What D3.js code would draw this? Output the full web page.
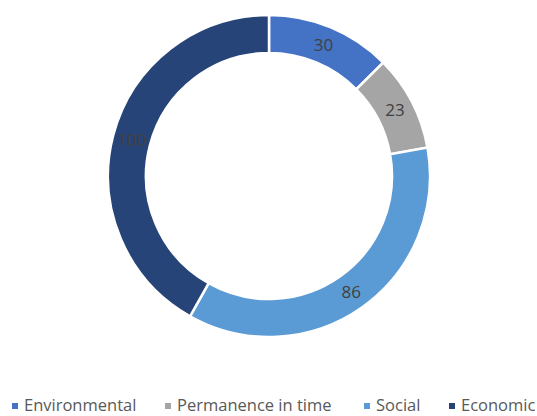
<!DOCTYPE html>
<html>
<head>
<meta charset="utf-8">
<script src="https://cdn.jsdelivr.net/npm/d3@7"></script>
<style>
  body { margin: 0; background: #fff; }
  svg text { font-family: "Open Sans", "Liberation Sans", sans-serif; }
</style>
</head>
<body>
<div id="chart"></div>
<script>
// data
var categories = ["Environmental", "Permanence in time", "Social", "Economic"];
var values = [30, 23, 86, 100];
var colors = ["#4472c4", "#a5a5a5", "#5b9bd5", "#264478"];
var legendX = [12, 165, 364, 449];

var width = 537, height = 416;
var cx = 269, cy = 176, outerR = 161, innerR = 123;

var svg = d3.select("#chart").append("svg")
    .attr("width", width)
    .attr("height", height);

var pie = d3.pie().sort(null).value(function(d) { return d; });
var arc = d3.arc().innerRadius(innerR).outerRadius(outerR);

var g = svg.append("g")
    .attr("transform", "translate(" + cx + "," + cy + ")");

var arcs = pie(values);

g.selectAll("path")
    .data(arcs)
  .enter().append("path")
    .attr("d", arc)
    .attr("fill", function(d, i) { return colors[i]; })
    .attr("stroke", "#fff")
    .attr("stroke-width", 2.5);

g.selectAll(".lbl")
    .data(arcs)
  .enter().append("text")
    .attr("class", "lbl")
    .attr("transform", function(d) { return "translate(" + arc.centroid(d) + ")"; })
    .attr("text-anchor", "middle")
    .attr("dy", "0.35em")
    .style("font-size", "17px")
    .style("fill", "#404040")
    .text(function(d) { return d.data; });

// legend
var leg = svg.selectAll(".leg")
    .data(categories)
  .enter().append("g")
    .attr("class", "leg")
    .attr("transform", function(d, i) { return "translate(" + legendX[i] + ",405)"; });

leg.append("rect")
    .attr("x", 0).attr("y", -2)
    .attr("width", 6).attr("height", 6)
    .attr("fill", function(d, i) { return colors[i]; });

leg.append("text")
    .attr("x", 12)
    .attr("dy", "0.35em")
    .style("font-size", "16.5px")
    .style("fill", "#595959")
    .text(function(d) { return d; });
</script>
</body>
</html>
